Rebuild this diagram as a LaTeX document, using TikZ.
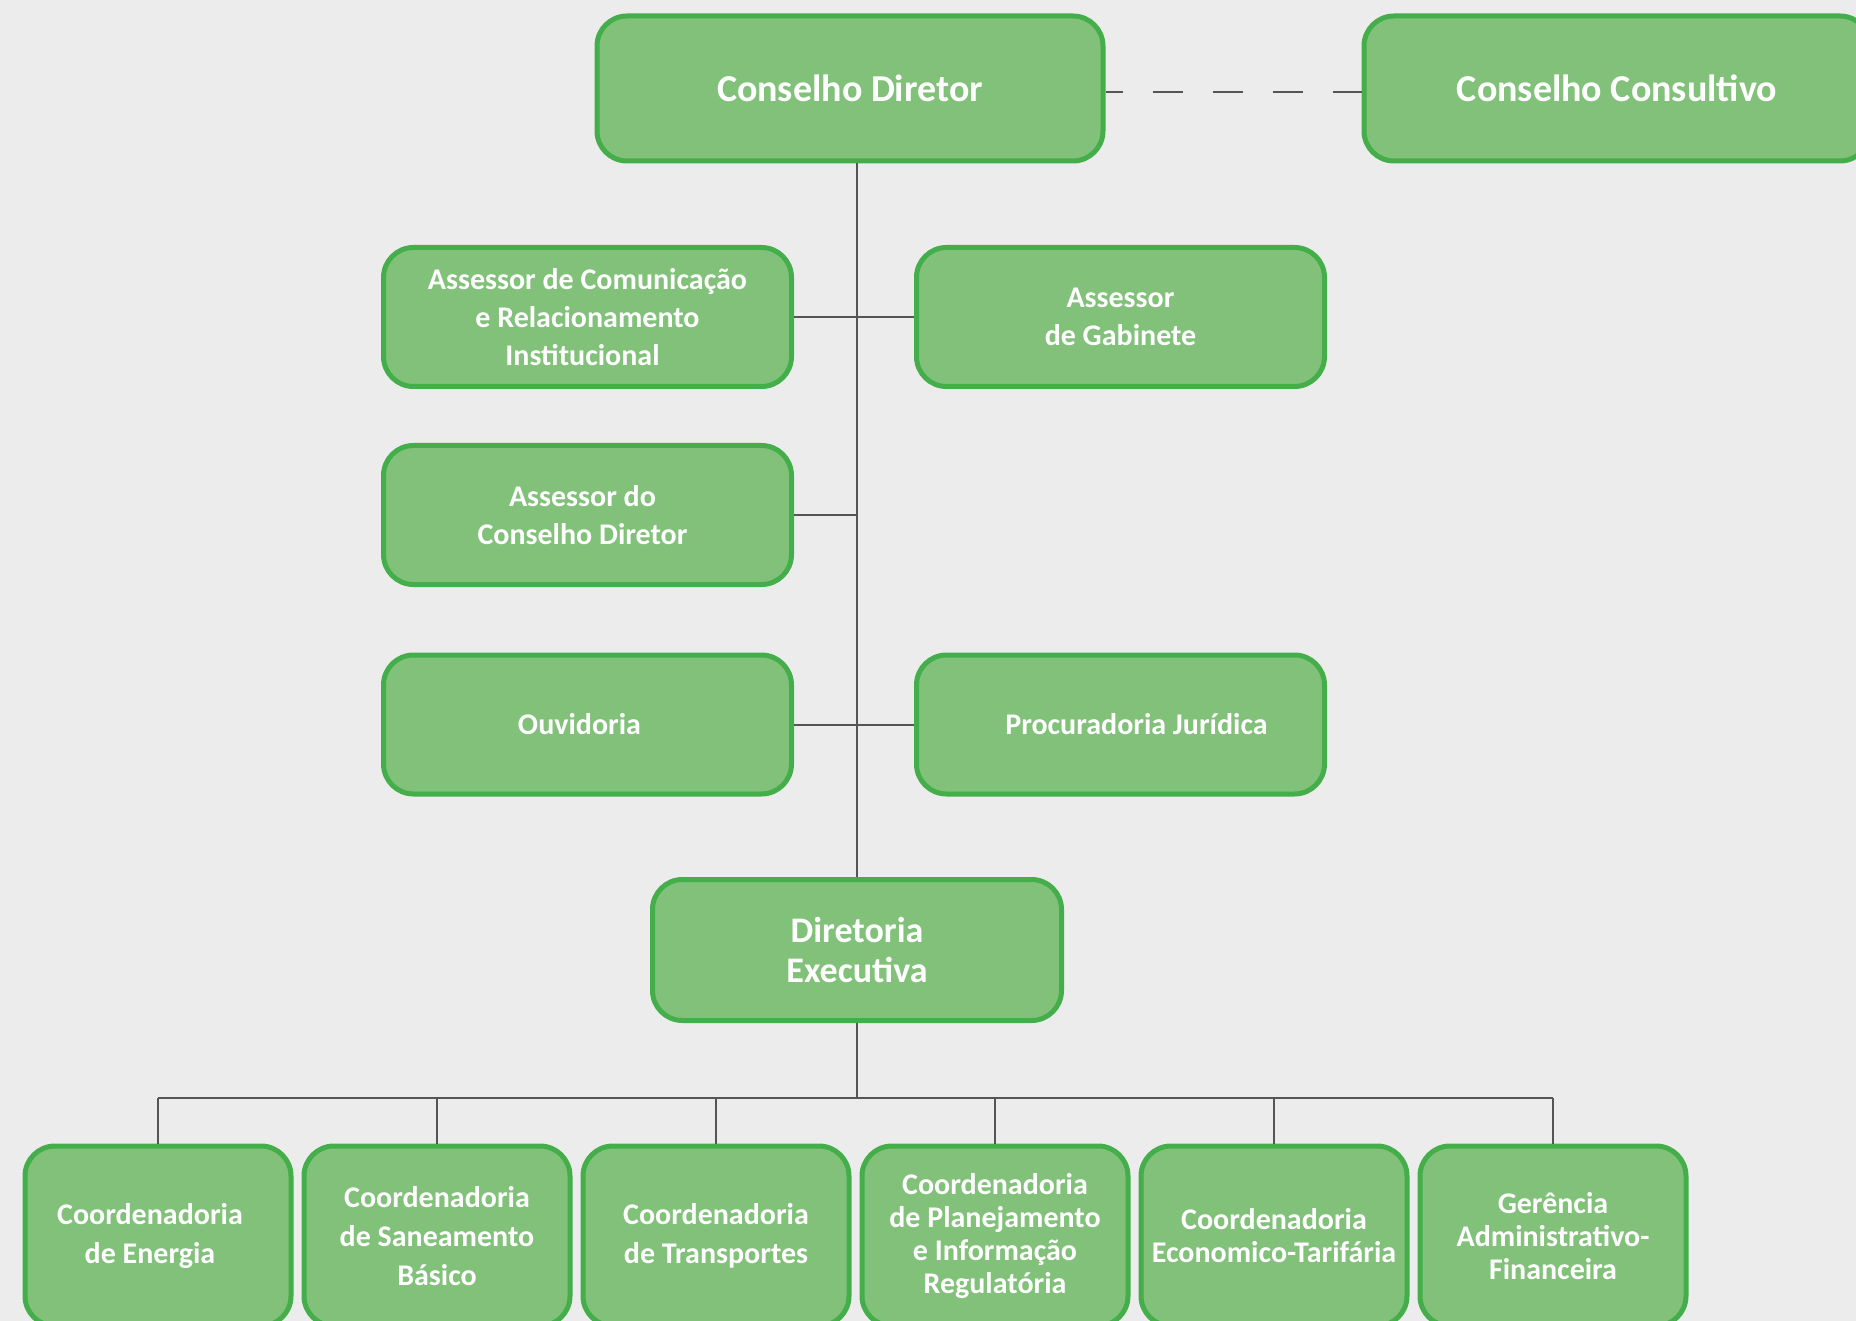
\documentclass[tikz,border=0pt]{standalone}
\usepackage{fontspec}
\setmainfont{Carlito}
\definecolor{boxfill}{HTML}{82C17A}
\definecolor{boxline}{HTML}{43AE4A}
\definecolor{linkgray}{HTML}{555555}
\definecolor{backgray}{HTML}{ECECEC}
\tikzset{
  orgbox/.style={draw=boxline, line width=5pt, fill=boxfill, rounded corners=30pt,
    text=white, align=center, inner sep=0pt},
  topbox/.style={orgbox, minimum width=506pt, minimum height=145pt,
    font=\bfseries\fontsize{38}{46}\selectfont},
  midbox/.style={orgbox, minimum width=408pt, minimum height=139pt,
    font=\bfseries\fontsize{30}{38}\selectfont},
  execbox/.style={orgbox, minimum width=409pt, minimum height=141pt,
    font=\bfseries\fontsize{36}{40}\selectfont},
  lowbox/.style={orgbox, minimum width=266pt, minimum height=180pt,
    font=\bfseries\fontsize{30}{39}\selectfont},
  lowtight/.style={lowbox, font=\bfseries\fontsize{30}{33}\selectfont},
  link/.style={draw=linkgray, line width=2pt},
  thinlink/.style={draw=linkgray, line width=1.5pt}
}
\begin{document}
\begin{tikzpicture}[x=1pt,y=-1pt]
\useasboundingbox (0,0) rectangle (1856,1321);
\clip (0,0) rectangle (1856,1321);
\fill [backgray] (0,0) rectangle (1856,1321);

\coordinate (bus) at (0,1098);

\node [topbox] (CD) at (850,88.5) {Conselho Diretor};
\node [topbox] (CC) at (1617,88.5) {Conselho Consultivo};
\node [midbox] (ACom) at (587.5,317) {Assessor de Comunicação\\e Relacionamento\\Institucional\hspace*{10pt}};
\node [midbox] (AGab) at (1120.5,317) {Assessor\\de Gabinete};
\node [midbox] (ACD) at (587.5,515) {Assessor do\hspace*{10pt}\\Conselho Diretor\hspace*{10pt}};
\node [midbox] (Ouv) at (587.5,724.5) {Ouvidoria\hspace*{16pt}};
\node [midbox] (Proc) at (1120.5,724.5) {\hspace*{32pt}Procuradoria Jurídica};
\node [execbox] (DE) at (857,950) {Diretoria\\Executiva};

\node [lowbox] (CEn) at (158,1236) {Coordenadoria\hspace*{16pt}\\de Energia\hspace*{16pt}};
\node [lowbox] (CSan) at (437,1236) {Coordenadoria\\de Saneamento\\Básico};
\node [lowbox] (CTr) at (716,1236) {Coordenadoria\\de Transportes};
\node [lowtight] (CPl) at (995,1236) {Coordenadoria\\de Planejamento\\e Informação\\Regulatória};
\node [lowtight] (CEc) at (1274,1236) {Coordenadoria\\Economico-Tarifária};
\node [lowtight] (GAF) at (1553,1236) {Gerência\\Administrativo-\\Financeira};

\draw [link, dash pattern=on 30pt off 30pt, dash phase=13pt] ([yshift=-3.5pt]CD.east) -- ([yshift=-3.5pt]CC.west);
\draw [link] (DE.north) -- (DE.north |- CD.south);
\draw [link] (ACom.east) -- (AGab.west);
\draw [link] (ACD.east) -- (ACD.east -| DE.north);
\draw [link] (Ouv.east) -- (Proc.west);
\draw [link] (DE.south) -- (DE.south |- bus);
\draw [link] (CEn.north |- bus) -- (GAF.north |- bus);
\draw [thinlink] (CEn.north) -- (CEn.north |- bus);
\draw [thinlink] (CSan.north) -- (CSan.north |- bus);
\draw [thinlink] (CTr.north) -- (CTr.north |- bus);
\draw [thinlink] (CPl.north) -- (CPl.north |- bus);
\draw [thinlink] (CEc.north) -- (CEc.north |- bus);
\draw [thinlink] (GAF.north) -- (GAF.north |- bus);
\end{tikzpicture}
\end{document}
